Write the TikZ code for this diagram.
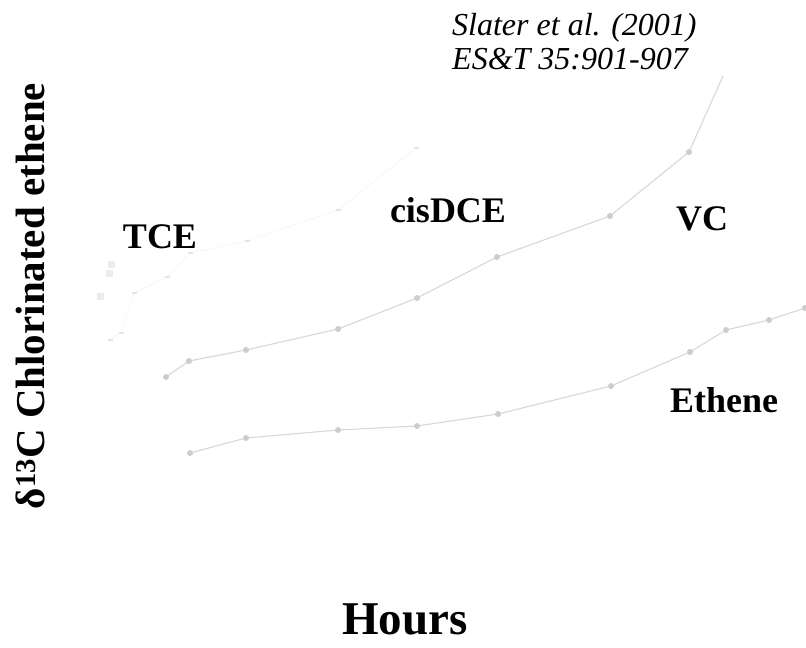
\documentclass[tikz,border=0pt]{standalone}
\usepackage{fontspec}
\setmainfont{Liberation Serif}
\definecolor{seriesline}{RGB}{216,216,216}
\definecolor{seriesmark}{RGB}{205,205,205}
\definecolor{faintline}{RGB}{246,246,246}
\definecolor{faintmark}{RGB}{228,228,228}
\definecolor{faintsq}{RGB}{236,236,236}
\tikzset{
  lbl/.style={font=\fontsize{36bp}{40bp}\selectfont\bfseries, inner sep=0pt},
  serline/.style={draw=seriesline, line width=1.1bp},
  faintseries/.style={draw=faintline, line width=0.7bp},
  sermark/.style={circle, fill=seriesmark, inner sep=0pt, minimum size=6bp},
  faintmk/.style={rectangle, fill=faintmark, inner sep=0pt, minimum width=5bp, minimum height=1.5bp},
  faintbox/.style={rectangle, fill=faintsq, inner sep=0pt, minimum size=7bp},
}
\begin{document}
\begin{tikzpicture}[x=1bp,y=-1bp]
\useasboundingbox (0,0) rectangle (806,648);
\fill[white] (0,0) rectangle (806,648);

% faint series
\foreach \n/\x/\y in {1/110/340,2/121/333,3/134/293,4/167/277,5/190/253,6/247/241,7/338/210,8/416/148}
  \coordinate (c\n) at (\x,\y);
\draw[faintseries] (c1) -- (c2) -- (c3) -- (c4) -- (c5) -- (c6) -- (c7) -- (c8);
\foreach \n in {1,...,8} \node[faintmk] (mc\n) at (c\n) {};
\node[faintbox] (sq1) at (111,264) {};
\node[faintbox] (sq2) at (109,273) {};
\node[faintbox] (sq3) at (100,296) {};

% VC series
\foreach \n/\x/\y in {1/166/377,2/189/361,3/246/350,4/338/329,5/417/298,6/497/257,7/610/216,8/689/152,9/723/76}
  \coordinate (v\n) at (\x,\y);
\draw[serline] (v1) -- (v2) -- (v3) -- (v4) -- (v5) -- (v6) -- (v7) -- (v8) -- (v9);
\foreach \n in {1,...,8} \node[sermark] (mv\n) at (v\n) {};

% Ethene series
\foreach \n/\x/\y in {1/190/453,2/246/438,3/338/430,4/417/426,5/498/414,6/611/386,7/690/352,8/726/330,9/769/320,10/805/308}
  \coordinate (e\n) at (\x,\y);
\draw[serline] (e1) -- (e2) -- (e3) -- (e4) -- (e5) -- (e6) -- (e7) -- (e8) -- (e9) -- (e10);
\foreach \n in {1,...,10} \node[sermark] (me\n) at (e\n) {};

% labels
\node[lbl, anchor=base] (tce) at (160,248) {TCE};
\node[lbl, anchor=base] (cis) at (448,223) {cisDCE};
\node[lbl, anchor=base] (vc) at (702,231) {VC};
\node[lbl, anchor=base] (eth) at (724,412) {Ethene};
\node[font=\fontsize{47bp}{50bp}\selectfont\bfseries, inner sep=0pt, anchor=base] (hours) at (405,634) {Hours};
\node[font=\fontsize{41bp}{44bp}\selectfont\bfseries, inner sep=0pt, rotate=90, anchor=center] (ylab) at (30,296) {δ\textsuperscript{13}C Chlorinated ethene};
\node[font=\fontsize{32bp}{34bp}\selectfont\itshape, inner sep=0pt, anchor=base west] (cite1) at (452,36) {Slater et al. (2001)};
\node[font=\fontsize{32bp}{34bp}\selectfont\itshape, inner sep=0pt, anchor=base west] (cite2) at (452,70) {ES\&T 35:901-907};
\end{tikzpicture}
\end{document}
